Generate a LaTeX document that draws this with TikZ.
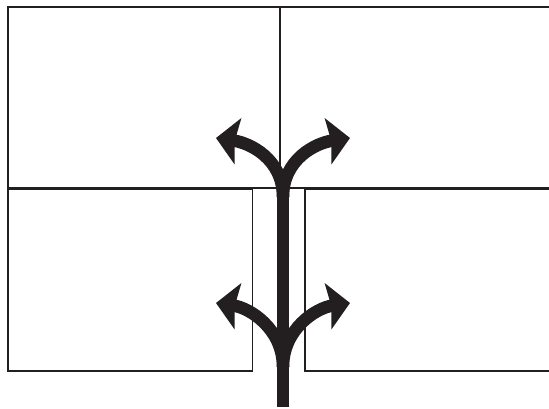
\documentclass[tikz,border=0pt]{standalone}
\usetikzlibrary{arrows.meta,positioning}
\definecolor{signblack}{RGB}{35,31,32}
\tikzset{
  panel/.style={draw=signblack, line width=1.3pt, inner sep=0pt},
  stem/.style={draw=signblack, line width=12.5pt},
  branch/.style={draw=signblack, line width=12.5pt, -{Stealth[length=22pt,width=46pt,inset=3pt]}}
}
\begin{document}
\begin{tikzpicture}[x=1pt,y=1pt]
  \useasboundingbox (0,0) rectangle (549,409);
  % upper panels
  \node[panel, minimum width=272pt, minimum height=181pt] (upleft) at (144,311.5) {};
  \node[panel, minimum width=280pt, minimum height=181pt] (upright) at (420,311.5) {};
  % lower panels
  \node[panel, minimum width=244.5pt, minimum height=182pt] (lowleft) at (130.25,129) {};
  \node[panel, minimum width=255pt, minimum height=182pt] (lowright) at (432.5,129) {};
  % fork points and arrow tips
  \coordinate (foot) at (283,2);
  \coordinate (forklow) at (283,42);
  \coordinate (forkup) at (283,212);
  \coordinate (lowtipL) at (216,106);
  \coordinate (lowtipR) at (350,106);
  \coordinate (uptipL) at (216,271);
  \coordinate (uptipR) at (350,271);
  % stem
  \draw[stem] (foot) -- (forkup);
  % branches
  \draw[branch] (forklow) .. controls +(0,38) and +(34,-5) .. (lowtipL);
  \draw[branch] (forklow) .. controls +(0,38) and +(-34,-5) .. (lowtipR);
  \draw[branch] (forkup) .. controls +(0,38) and +(34,-5) .. (uptipL);
  \draw[branch] (forkup) .. controls +(0,38) and +(-34,-5) .. (uptipR);
\end{tikzpicture}
\end{document}
